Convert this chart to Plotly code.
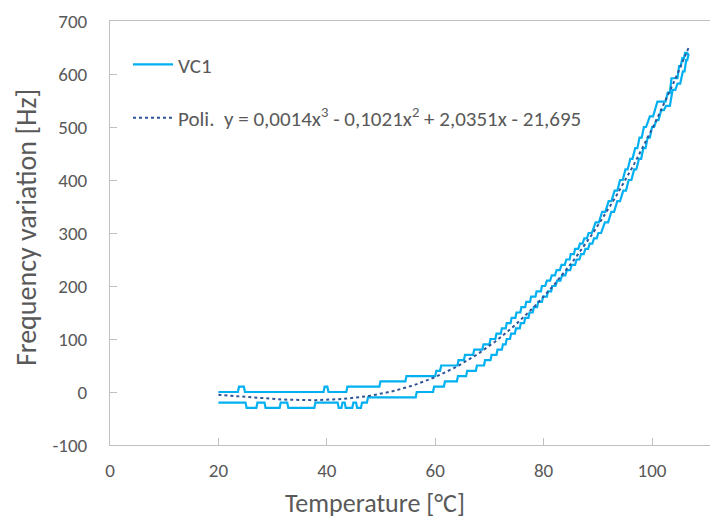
import numpy as np
import plotly.graph_objects as go

# VC1 frequency variation vs temperature, logged as 10 Hz plateaus.
# Each plateau: frequency level [Hz], first and last temperature [°C] at that level.
upper_level_hz = [0, 10, 0, 10, 0, 10, 20, 30, 40, 50, 60,
                  70, 80, 90, 100, 110, 120, 130, 140, 150, 160, 170, 180, 190,
                  200, 210, 220, 230, 240, 250, 260, 270, 280, 290, 300, 320, 340,
                  360, 380, 400, 420, 440, 460, 480, 500, 520, 548, 565, 592, 615,
                  630, 640]
upper_from_c = [20.0, 23.8, 24.9, 39.6, 40.3, 43.8, 49.9, 54.7, 60.2, 61.1, 64.3,
                65.5, 67.2, 68.9, 70.2, 71.3, 72.3, 73.2, 74.1, 75.0, 75.9, 76.8, 77.7, 78.7,
                79.7, 80.6, 81.5, 82.4, 83.3, 84.2, 85.0, 85.8, 86.7, 87.5, 88.3, 89.6, 90.8,
                92.0, 93.1, 94.1, 95.1, 96.0, 96.9, 97.7, 98.5, 99.6, 101.0, 102.9, 103.6, 105.0,
                105.6, 106.1]
upper_to_c = [23.6, 24.7, 39.4, 40.1, 43.6, 49.7, 54.5, 60.0, 60.9, 64.1, 65.3,
              67.0, 68.7, 70.0, 71.1, 72.1, 73.0, 73.9, 74.8, 75.7, 76.6, 77.5, 78.5, 79.5,
              80.3, 81.2, 82.1, 83.0, 83.9, 84.8, 85.6, 86.4, 87.2, 88.0, 88.9, 90.2, 91.4,
              92.5, 93.6, 94.6, 95.5, 96.4, 97.3, 98.1, 98.9, 100.2, 102.5, 103.3, 104.7, 105.3,
              105.9, 106.5]

lower_level_hz = [-20, -30, -20, -30, -20, -30, -20, -30, -20, -30, -20, -30, -20,
                  -10, 0, 10, 20, 30, 40, 50, 60, 70, 80, 90,
                  100, 110, 120, 130, 140, 150, 160, 170, 180, 190,
                  200, 210, 220, 230, 240, 250, 260, 270, 280, 290, 300, 320, 340,
                  360, 380, 400, 420, 440, 460, 480, 500, 513, 532, 540, 570, 582, 605,
                  626, 635]
lower_from_c = [20.0, 25.2, 27.2, 28.7, 31.5, 32.9, 37.9, 42.2, 42.9, 43.5, 44.9, 45.6, 46.5,
                47.6, 56.6, 59.8, 61.8, 64.2, 65.9, 67.7, 69.2, 70.4, 71.5, 72.5,
                73.2, 74.0, 74.9, 75.8, 76.6, 77.4, 78.2, 79.0, 79.9, 80.8,
                81.6, 82.5, 83.4, 84.3, 85.2, 86.1, 86.9, 87.7, 88.5, 89.3, 90.1, 91.3, 92.5,
                93.6, 94.7, 95.7, 96.7, 97.6, 98.4, 99.2, 100.0, 100.8, 101.7, 102.6, 103.8, 104.7, 105.7,
                106.3, 106.7]
lower_to_c = [25.0, 27.0, 28.5, 31.3, 32.7, 37.7, 42.0, 42.7, 43.3, 44.7, 45.4, 46.3, 47.4,
              56.4, 59.6, 61.6, 64.0, 65.7, 67.5, 69.0, 70.2, 71.3, 72.3, 73.0,
              73.8, 74.7, 75.6, 76.4, 77.2, 78.0, 78.8, 79.7, 80.6, 81.4,
              82.2, 83.1, 84.0, 84.9, 85.8, 86.6, 87.4, 88.2, 89.0, 89.8, 90.6, 91.9, 93.0,
              94.1, 95.2, 96.2, 97.1, 98.0, 98.8, 99.6, 100.4, 101.2, 102.2, 103.3, 104.3, 105.2, 106.0,
              106.5, 106.8]

x_tick_vals = [0, 20, 40, 60, 80, 100]
y_tick_vals = [-100, 0, 100, 200, 300, 400, 500, 600, 700]
y_tick_text = ["-100", "0", "100", "200", "300", "400", "500", "600", "700"]

series_name = "VC1"
trend_name = "Poli.  y = 0,0014x<sup>3</sup> - 0,1021x<sup>2</sup> + 2,0351x - 21,695"
x_title = "Temperature [°C]"
y_title = "Frequency variation [Hz]"


def plateau_samples(levels, t_from, t_to):
    temps, freqs = [], []
    for f, a, b in zip(levels, t_from, t_to):
        temps += [a, b]
        freqs += [f, f]
    return np.array(temps), np.array(freqs, dtype=float)


up_t, up_f = plateau_samples(upper_level_hz, upper_from_c, upper_to_c)
lo_t, lo_f = plateau_samples(lower_level_hz, lower_from_c, lower_to_c)

# one closed path: rising branch, then back along the other branch
loop_t = np.concatenate([up_t, lo_t[::-1]])
loop_f = np.concatenate([up_f, lo_f[::-1]])

# cubic polynomial trend: both branches read at evenly spaced temperatures
t_min, t_max = loop_t.min(), loop_t.max()
grid = np.linspace(t_min, t_max, 500)
fit_t = np.concatenate([grid, grid])
fit_f = np.concatenate([np.interp(grid, up_t, up_f), np.interp(grid, lo_t, lo_f)])
coef = np.polyfit(fit_t, fit_f, 3)
trend_t = np.linspace(t_min, t_max, 200)
trend_f = np.polyval(coef, trend_t)

FONT = "Calibri, Carlito, Lato, sans-serif"
TEXT = "#595959"
AXIS = "#BFBFBF"

fig = go.Figure()
fig.add_trace(go.Scatter(
    x=loop_t, y=loop_f, mode="lines", name=series_name, legendgroup="a",
    line=dict(color="#00B0F0", width=2.2),
))
fig.add_trace(go.Scatter(
    x=trend_t, y=trend_f, mode="lines", name=trend_name, legendgroup="b",
    line=dict(color="#2F5597", width=2, dash="dot"),
))

fig.update_layout(
    width=710, height=519,
    margin=dict(l=110, r=0, t=21, b=74),
    paper_bgcolor="white", plot_bgcolor="white",
    font=dict(family=FONT, color=TEXT, size=19),
    showlegend=True,
    legend=dict(
        x=0.03, y=0.945, xanchor="left", yanchor="top",
        bgcolor="rgba(0,0,0,0)", borderwidth=0,
        font=dict(family=FONT, size=21, color=TEXT),
        traceorder="grouped", tracegroupgap=23, itemwidth=40,
    ),
    xaxis=dict(
        range=[0, 110.7], tickvals=x_tick_vals,
        showgrid=False, zeroline=False,
        showline=True, linecolor=AXIS, linewidth=1, mirror=True,
        ticks="inside", ticklen=7, tickcolor=AXIS,
        tickfont=dict(family=FONT, size=19, color=TEXT),
        ticklabelstandoff=8,
    ),
    yaxis=dict(
        range=[-100, 700], tickvals=y_tick_vals, ticktext=y_tick_text,
        showgrid=False, zeroline=False,
        showline=True, linecolor=AXIS, linewidth=1,
        ticks="inside", ticklen=7, tickcolor=AXIS,
        tickfont=dict(family=FONT, size=19, color=TEXT),
        ticklabelstandoff=18,
    ),
    annotations=[
        dict(text=x_title, xref="paper", yref="paper", x=0.4417, y=-0.137,
             xanchor="center", yanchor="middle", showarrow=False,
             font=dict(family=FONT, size=26, color=TEXT)),
        dict(text=y_title, xref="paper", yref="paper", x=-0.138, y=0.512,
             xanchor="center", yanchor="middle", textangle=-90, showarrow=False,
             font=dict(family=FONT, size=28, color=TEXT)),
    ],
)

fig.write_html("out.html")
